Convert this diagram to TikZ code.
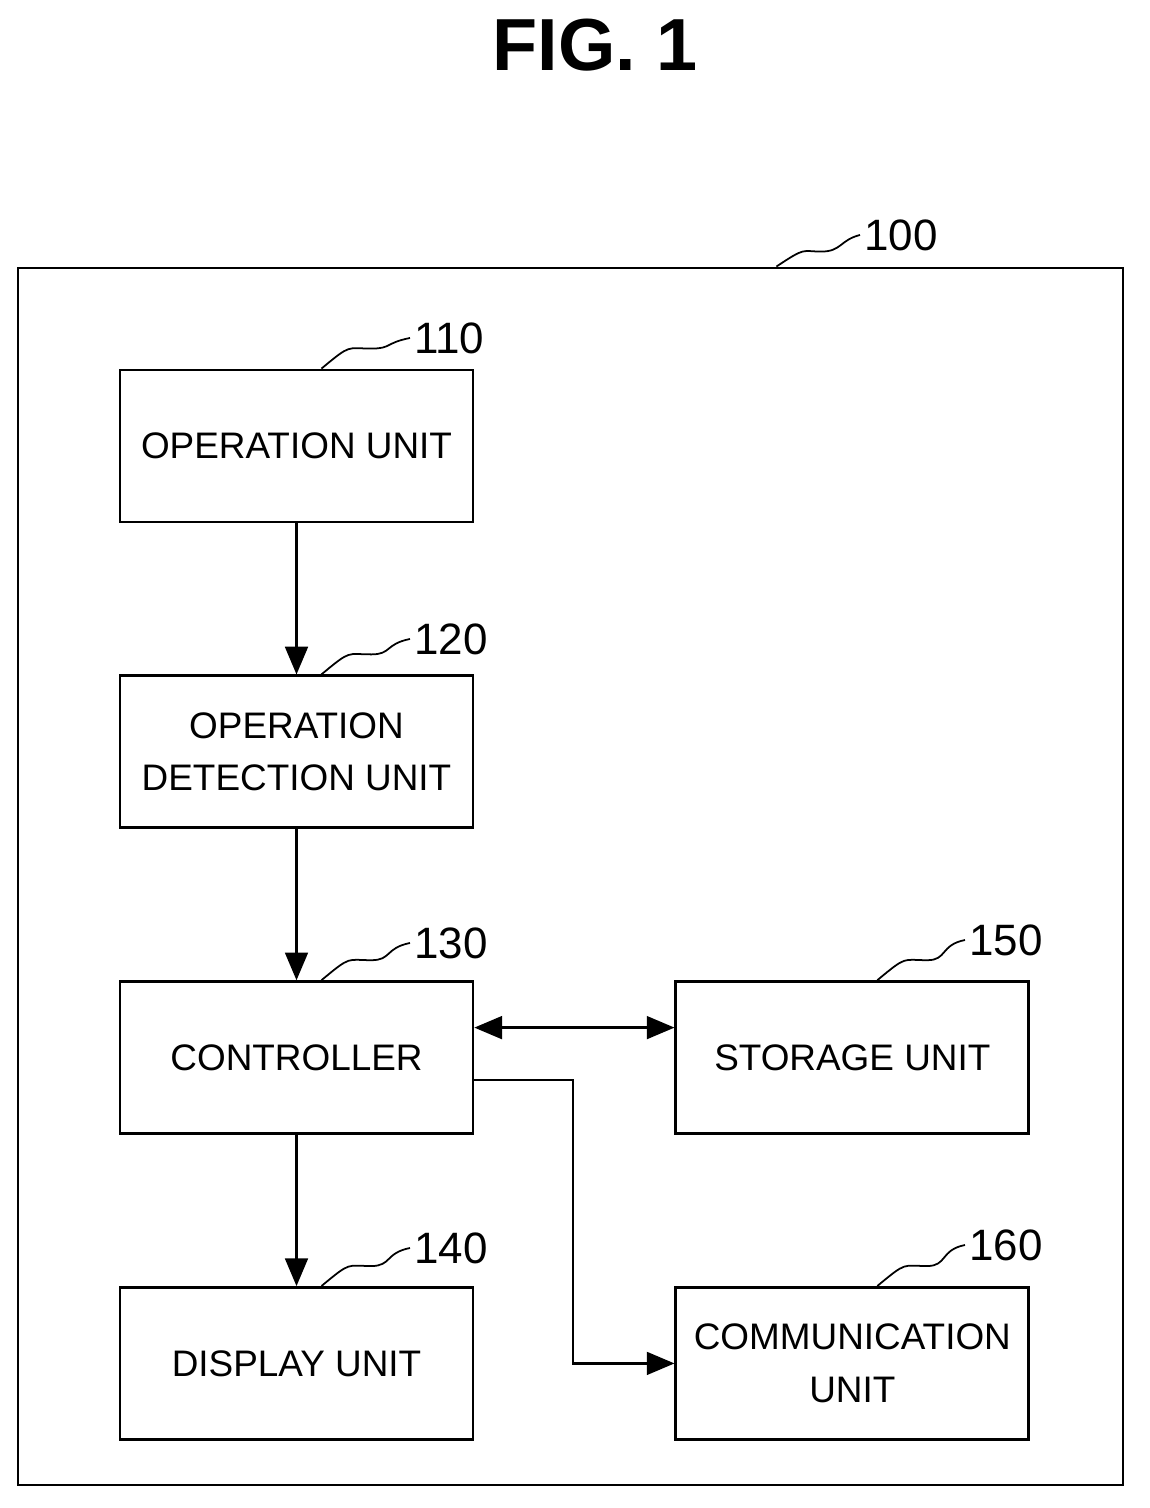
\documentclass[tikz,border=0pt]{standalone}
\usepackage{fontspec}
\setmainfont{Liberation Sans}
\usetikzlibrary{shapes,arrows,positioning}

\begin{document}
\begin{tikzpicture}[
    x=1cm, y=1cm,
    node distance=1.51cm,
    unit/.style={rectangle, draw, line width=0.8pt, minimum width=3.53cm, minimum height=1.52cm, align=center, font=\fontsize{10.5}{15}\selectfont, inner sep=0pt},
    num/.style={font=\fontsize{12.5}{15}\selectfont, anchor=west, inner sep=1pt},
    lead/.style={line width=0.5pt},
    arrow/.style={line width=0.8pt,->,>=triangle 45}
]
\useasboundingbox (0,0) rectangle (11.5,15.08);

% Title
\node[font=\fontsize{21}{24}\selectfont\bfseries] (title) at (5.95,14.63) {FIG. 1};

% Outer frame
\node[rectangle, draw, line width=0.8pt, minimum width=11.05cm, minimum height=12.17cm, inner sep=0pt] (dev) at (5.705,6.315) {};

% Units (left column)
\node[unit] (opunit) at (2.965,10.62) {OPERATION UNIT};
\node[unit, below=of opunit] (detect) {OPERATION\\DETECTION UNIT};
\node[unit, below=of detect] (ctrl) {CONTROLLER};
\node[unit, below=of ctrl] (disp) {DISPLAY UNIT};

% Units (right column)
\node[unit, right=2cm of ctrl] (store) {STORAGE UNIT};
\node[unit, right=2cm of disp] (comm) {COMMUNICATION\\UNIT};

% Reference numerals
\node[num] (n100) at (8.6,12.73) {100};
\node[num] (n110) at (4.1,11.7) {110};
\node[num] (n120) at (4.1,8.69) {120};
\node[num] (n130) at (4.1,5.65) {130};
\node[num] (n140) at (4.1,2.6) {140};
\node[num] (n150) at (9.65,5.68) {150};
\node[num] (n160) at (9.65,2.63) {160};

% Leader squiggles
\foreach \n/\b in {n110/opunit, n120/detect, n130/ctrl, n140/disp, n150/store, n160/comm}
  \draw[lead] ([xshift=0.25cm]\b.north) .. controls +(0.3,0.25) and +(-0.25,0) .. ([xshift=0.75cm,yshift=0.2cm]\b.north)
    .. controls +(0.2,0) and +(-0.25,-0.05) .. (\n.west);
\coordinate (top100) at ([xshift=-3.48cm]dev.north east);
\draw[lead] (top100) .. controls +(0.3,0.2) and +(-0.2,0) .. ([xshift=0.45cm,yshift=0.15cm]top100)
    .. controls +(0.2,0) and +(-0.2,-0.05) .. (n100.west);

% Connections
\draw[arrow] (opunit) -- (detect);
\draw[arrow] (detect) -- (ctrl);
\draw[arrow] (ctrl) -- (disp);
\draw[arrow, <->] ([yshift=0.3cm]ctrl.east) -- ([yshift=0.3cm]store.west);
\coordinate (bend) at (5.73,4.28);
\draw[arrow] (ctrl.east |- bend) -- (bend) |- (comm.west);

\end{tikzpicture}
\end{document}
